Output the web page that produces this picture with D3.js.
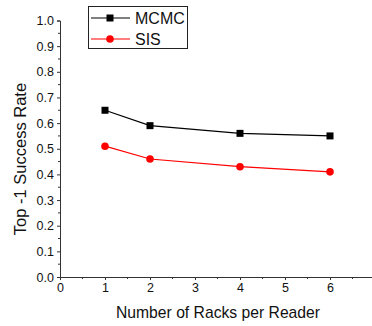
<!DOCTYPE html>
<html>
<head>
<script src="https://cdn.jsdelivr.net/npm/d3@7"></script>
<meta charset="utf-8">
<title>Top-1 Success Rate</title>
<style>
  body { margin: 0; background: #fff; }
  text { font-family: "Liberation Sans", Arial, sans-serif; fill: #111; }
</style>
</head>
<body>
<svg width="372" height="326" id="mainsvg"></svg>
<script>
    // data
    let racks = [1, 2, 4, 6];
    let mcmc = [0.65, 0.59, 0.56, 0.55];
    let sis = [0.51, 0.46, 0.43, 0.41];
    let xTicks = [0, 1, 2, 3, 4, 5, 6];
    let yTicks = [0, 0.1, 0.2, 0.3, 0.4, 0.5, 0.6, 0.7, 0.8, 0.9, 1.0];

    let mainsvg = d3.select('#mainsvg');
    let x = d3.scaleLinear().domain([0, 7]).range([60, 375]);
    let y = d3.scaleLinear().domain([0, 1]).range([277, 20.5]);

    // minor ticks
    let xMinor = d3.range(0.5, 7, 1);
    let yMinor = d3.range(0.05, 1, 0.1);
    mainsvg.append('g').selectAll('line').data(xMinor).join('line')
        .attr('x1', d => x(d)).attr('x2', d => x(d))
        .attr('y1', y(0)).attr('y2', y(0) + 2)
        .attr('stroke', '#333');
    mainsvg.append('g').selectAll('line').data(yMinor).join('line')
        .attr('x1', x(0) - 2).attr('x2', x(0))
        .attr('y1', d => y(d)).attr('y2', d => y(d))
        .attr('stroke', '#333');

    let xAxis = mainsvg.append('g')
        .attr('transform', `translate(0,${y(0)})`)
        .call(d3.axisBottom(x).tickValues(xTicks).tickSize(3).tickPadding(3).tickFormat(d3.format('d')));
    let yAxis = mainsvg.append('g')
        .attr('transform', `translate(${x(0)},0)`)
        .call(d3.axisLeft(y).tickValues(yTicks).tickSize(3).tickPadding(3).tickFormat(d3.format('.1f')));
    [xAxis, yAxis].forEach(a => {
        a.selectAll('text').style('font-size', '12.5px').style('fill', '#111');
        a.select('.domain').attr('stroke', '#333');
        a.selectAll('.tick line').attr('stroke', '#333');
    });

    mainsvg.append('text')
        .attr('x', 218).attr('y', 318)
        .attr('text-anchor', 'middle')
        .style('font-size', '15.7px')
        .text('Number of Racks per Reader');
    mainsvg.append('text')
        .attr('transform', 'translate(26,159) rotate(-90)')
        .attr('text-anchor', 'middle')
        .style('font-size', '16.5px')
        .text('Top -1 Success Rate');

    let series = [
        {name: 'MCMC', values: mcmc, color: '#000', shape: 'square'},
        {name: 'SIS', values: sis, color: '#ff0000', shape: 'circle'}
    ];
    let line = d3.line().x((d, i) => x(racks[i])).y(d => y(d));

    function drawMarker(g, shape, color) {
        if (shape === 'square') {
            g.append('rect').attr('x', -3.5).attr('y', -3.5).attr('width', 7).attr('height', 7).attr('fill', color);
        } else {
            g.append('circle').attr('r', 3.8).attr('fill', color);
        }
    }

    series.forEach(s => {
        mainsvg.append('path')
            .attr('d', line(s.values))
            .attr('fill', 'none')
            .attr('stroke', s.color)
            .attr('stroke-width', 1.2);
        s.values.forEach((v, i) => {
            let g = mainsvg.append('g').attr('transform', `translate(${x(racks[i])},${y(v)})`);
            drawMarker(g, s.shape, s.color);
        });
    });

    // legend
    let legend = mainsvg.append('g');
    legend.append('rect')
        .attr('x', 88.5).attr('y', 6.5).attr('width', 99).attr('height', 42)
        .attr('fill', 'none').attr('stroke', '#222');
    series.forEach((s, i) => {
        let ly = 18 + i * 21;
        legend.append('line')
            .attr('x1', 91).attr('x2', 130).attr('y1', ly).attr('y2', ly)
            .attr('stroke', s.color).attr('stroke-width', 1.2);
        drawMarker(legend.append('g').attr('transform', `translate(110,${ly})`), s.shape, s.color);
        legend.append('text')
            .attr('x', 135).attr('y', ly + 6)
            .style('font-size', '16px')
            .text(s.name);
    });
</script>
</body>
</html>
